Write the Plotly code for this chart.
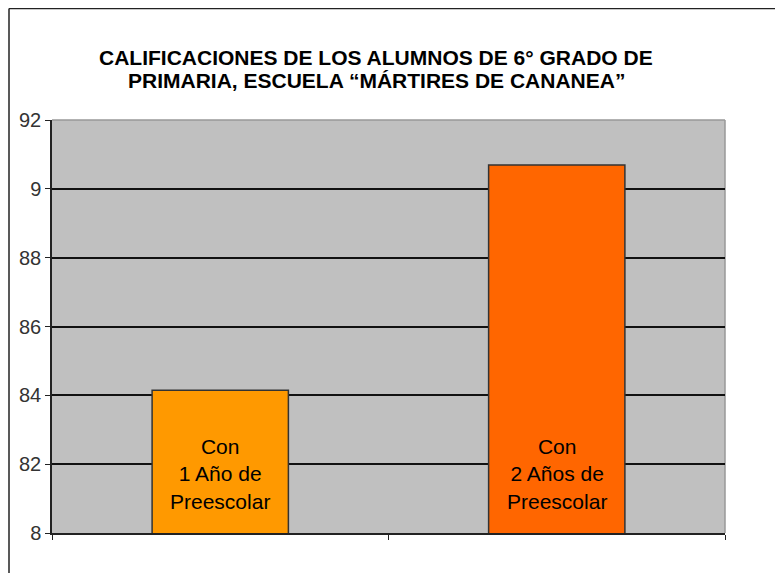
import plotly.graph_objects as go

# datos
categorias = ["1 Año", "2 Años"]
calificaciones = [84.15, 90.69]
etiquetas = ["Con<br>1 Año de<br>Preescolar", "Con<br>2 Años de<br>Preescolar"]
colores = ["#ff9900", "#ff6600"]
y_ticks = [80, 82, 84, 86, 88, 90, 92]
y_ticktext = ["8", "82", "84", "86", "88", "9", "92"]
titulo = ["CALIFICACIONES DE LOS ALUMNOS DE 6° GRADO DE",
          "PRIMARIA, ESCUELA “MÁRTIRES DE CANANEA”"]
etiqueta_y = 81.7

# area de trazado en pixeles de la figura
W, H = 775, 565
L, R, T, B = 44, 58, 112, 40
PW, PH = W - L - R, H - T - B


def px_x(x):
    return (x - L) / PW


def px_y(y):
    return (H - B - y) / PH


FUENTE = "Liberation Sans, Arial"

fig = go.Figure()

fig.add_trace(go.Bar(
    x=categorias,
    y=calificaciones,
    marker=dict(color=colores, line=dict(color="#333333", width=1.5)),
    width=0.405,
    hoverinfo="y"
))

# texto dentro de las barras
for cat, txt in zip(categorias, etiquetas):
    fig.add_annotation(
        x=cat, y=etiqueta_y, xref="x", yref="y",
        text=txt, showarrow=False,
        font=dict(family=FUENTE, size=21, color="#000000"),
        align="center", yanchor="middle"
    )

# titulo en dos lineas
for linea, yy in zip(titulo, [50, 73]):
    fig.add_annotation(
        x=px_x(368), y=px_y(yy), xref="paper", yref="paper",
        text="<b>" + linea + "</b>", showarrow=False,
        xanchor="center", yanchor="middle",
        font=dict(family=FUENTE, size=21, color="#000000")
    )

# marco exterior (izquierda y arriba)
fig.add_shape(type="line", xref="paper", yref="paper",
              x0=px_x(1), x1=px_x(1), y0=px_y(H), y1=px_y(0.5),
              line=dict(color="#222222", width=1.5))
fig.add_shape(type="line", xref="paper", yref="paper",
              x0=px_x(1), x1=px_x(W), y0=px_y(0.5), y1=px_y(0.5),
              line=dict(color="#222222", width=1.5))

# borde gris del area de trazado (arriba y derecha)
fig.add_shape(type="line", xref="paper", yref="paper", x0=0, x1=1, y0=1, y1=1,
              line=dict(color="#999999", width=1.5), layer="below")
fig.add_shape(type="line", xref="paper", yref="paper", x0=1, x1=1, y0=0, y1=1,
              line=dict(color="#999999", width=1.5), layer="below")

fig.update_layout(
    width=W,
    height=H,
    paper_bgcolor="#ffffff",
    plot_bgcolor="#c0c0c0",
    showlegend=False,
    margin=dict(l=L, r=R, t=T, b=B),
    font=dict(family=FUENTE, color="#333333"),
    xaxis=dict(
        showticklabels=False,
        ticks="outside",
        tickson="boundaries",
        ticklen=5,
        tickcolor="#222222",
        showline=True,
        linecolor="#222222",
        linewidth=1.5,
        showgrid=False
    ),
    yaxis=dict(
        range=[80, 92],
        tickvals=y_ticks,
        ticktext=y_ticktext,
        tickfont=dict(family=FUENTE, size=20, color="#333333"),
        ticks="outside",
        ticklen=5,
        tickcolor="#222222",
        showline=True,
        linecolor="#222222",
        linewidth=1.5,
        gridcolor="#111111",
        gridwidth=1.5,
        zeroline=False
    )
)

fig.write_html("out.html")
